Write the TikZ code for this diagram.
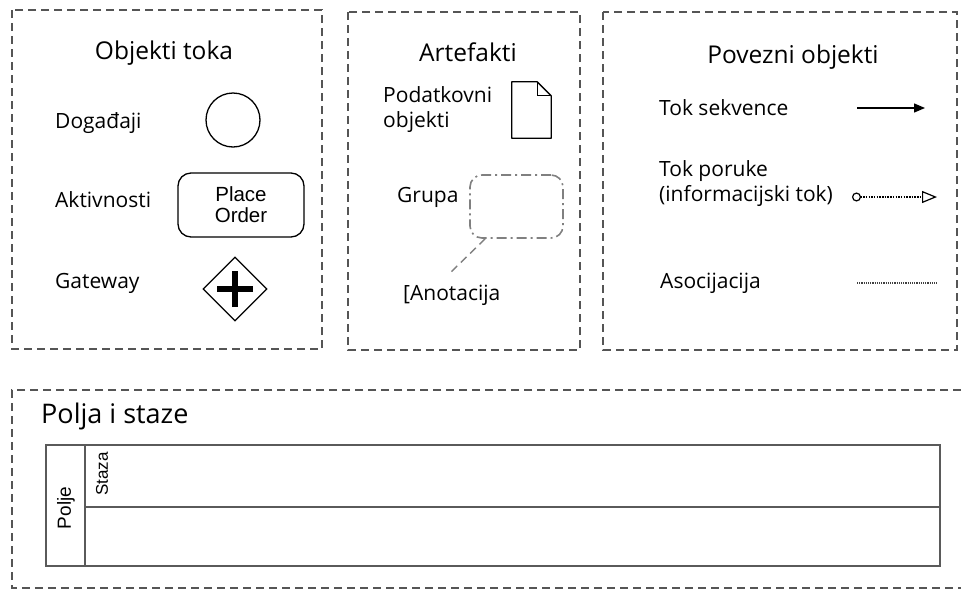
\documentclass[tikz,border=0pt]{standalone}
\usepackage{fontspec}
\setmainfont{Open Sans}
\newfontfamily\arialfont{Liberation Sans}
\usetikzlibrary{shapes.geometric, arrows.meta, positioning}
\definecolor{framegray}{HTML}{555555}
\definecolor{poolgray}{HTML}{5a5a5a}

\begin{document}
\begin{tikzpicture}[
    x=1pt, y=-1pt,
    node distance=6pt,
    frame/.style={draw=framegray, line width=1.4pt, dash pattern=on 8pt off 5pt},
    title/.style={font=\fontsize{24.5}{28}\selectfont},
    lbl/.style={anchor=west, align=left, inner sep=0pt, font=\fontsize{21}{25}\selectfont},
    event/.style={circle, draw, line width=1.3pt, minimum size=54pt, inner sep=0pt},
    task/.style={draw, rounded corners=13pt, line width=1.3pt, minimum width=126pt, minimum height=64pt, align=center, font=\arialfont\fontsize{20.5}{21}\selectfont},
    gate/.style={diamond, draw, line width=1.3pt, minimum size=64pt, inner sep=0pt},
    grouprect/.style={draw=gray, line width=1.6pt, rounded corners=12pt, dash pattern=on 10pt off 4pt on 2pt off 4pt, minimum width=93pt, minimum height=63pt},
    seqflow/.style={line width=1.4pt, -{Triangle[length=11pt, width=9pt]}},
    msgflow/.style={line width=1.2pt, dash pattern=on 1.5pt off 1.2pt, {Circle[open, length=9pt, width=9pt]}-{Triangle[open, length=15pt, width=12pt]}},
    assoc/.style={draw=darkgray, line width=1.3pt, dash pattern=on 1.2pt off 1pt},
    lane/.style={draw=poolgray, line width=2pt},
    rot/.style={rotate=90, inner sep=0pt, font=\arialfont}
]
    \useasboundingbox (0,0) rectangle (961,592);

    % Frames
    \draw[frame] (12,10) rectangle (322,349);
    \draw[frame] (348,12) rectangle (580,350);
    \draw[frame] (603,12) rectangle (957,350);
    \draw[frame] (961,390) -- (12,390) -- (12,588) -- (961,588);

    % Objekti toka
    \node[title] (tflow) at (164,53) {Objekti toka};
    \node[lbl] (ldog) at (55,123) {Događaji};
    \node[event] (ev) at (233,120) {};
    \node[lbl] (lakt) at (55,200) {Aktivnosti};
    \node[task] (order) at (241,205) {Place\\Order};
    \node[lbl] (lgw) at (55,283) {Gateway};
    \node[gate] (gw) at (235,289) {};
    \draw[line width=6.5pt] ([yshift=-18pt]gw.center) -- ([yshift=18pt]gw.center);
    \draw[line width=6.5pt] ([xshift=-18pt]gw.center) -- ([xshift=18pt]gw.center);

    % Artefakti
    \node[title] (tart) at (468,52) {Artefakti};
    \node[lbl] (ldata) at (383,110) {Podatkovni\\objekti};
    \node[minimum width=39pt, minimum height=56pt, inner sep=0pt] (docobj) at (531.5,110) {};
    \draw[line width=1.3pt, line join=round] (docobj.south west) -- (docobj.north west)
        -- ([xshift=-14pt]docobj.north east) -- ([yshift=-14pt]docobj.north east)
        -- (docobj.south east) -- cycle;
    \draw[line width=1.3pt] ([xshift=-14pt]docobj.north east) |- ([yshift=-14pt]docobj.north east);
    \node[lbl] (lgrp) at (397,197) {Grupa};
    \node[grouprect] (grp) at (516.5,206.5) {};
    \node[lbl] (lanno) at (403,295) {[Anotacija};
    \coordinate (annotip) at (450,273);
    \draw[draw=gray, line width=1.4pt, dash pattern=on 8pt off 5pt] ([xshift=16pt]grp.south west) -- (annotip);

    % Povezni objekti
    \node[title] (tconn) at (793,57) {Povezni objekti};
    \node[lbl] (lseq) at (659,108) {Tok sekvence};
    \coordinate (seqA) at (857,108);
    \coordinate (seqB) at (925,108);
    \draw[seqflow] (seqA) -- (seqB);
    \node[lbl] (lmsg) at (659,184) {Tok poruke\\(informacijski tok)};
    \coordinate (msgA) at (852,197);
    \coordinate (msgB) at (937,197);
    \draw[msgflow] (msgA) -- (msgB);
    \node[lbl] (lassoc) at (660,283) {Asocijacija};
    \coordinate (asA) at (857,283);
    \coordinate (asB) at (938,283);
    \draw[assoc] (asA) -- (asB);

    % Polja i staze
    \node[anchor=west, inner sep=0pt, font=\fontsize{27}{30}\selectfont] (tpool) at (41,416) {Polja i staze};
    \node[lane, minimum width=894pt, minimum height=121pt, inner sep=0pt] (pool) at (493,505.5) {};
    \draw[lane] ([xshift=40pt]pool.north west) -- ([xshift=40pt]pool.south west);
    \draw[lane] ([xshift=40pt,yshift=-1.5pt]pool.west) -- ([yshift=-1.5pt]pool.east);
    \node[rot, font=\arialfont\fontsize{19}{20}\selectfont] (lpool) at (66,508) {Polje};
    \node[rot, font=\arialfont\fontsize{17}{18}\selectfont] (llane) at (102,474) {Staza};
\end{tikzpicture}
\end{document}
